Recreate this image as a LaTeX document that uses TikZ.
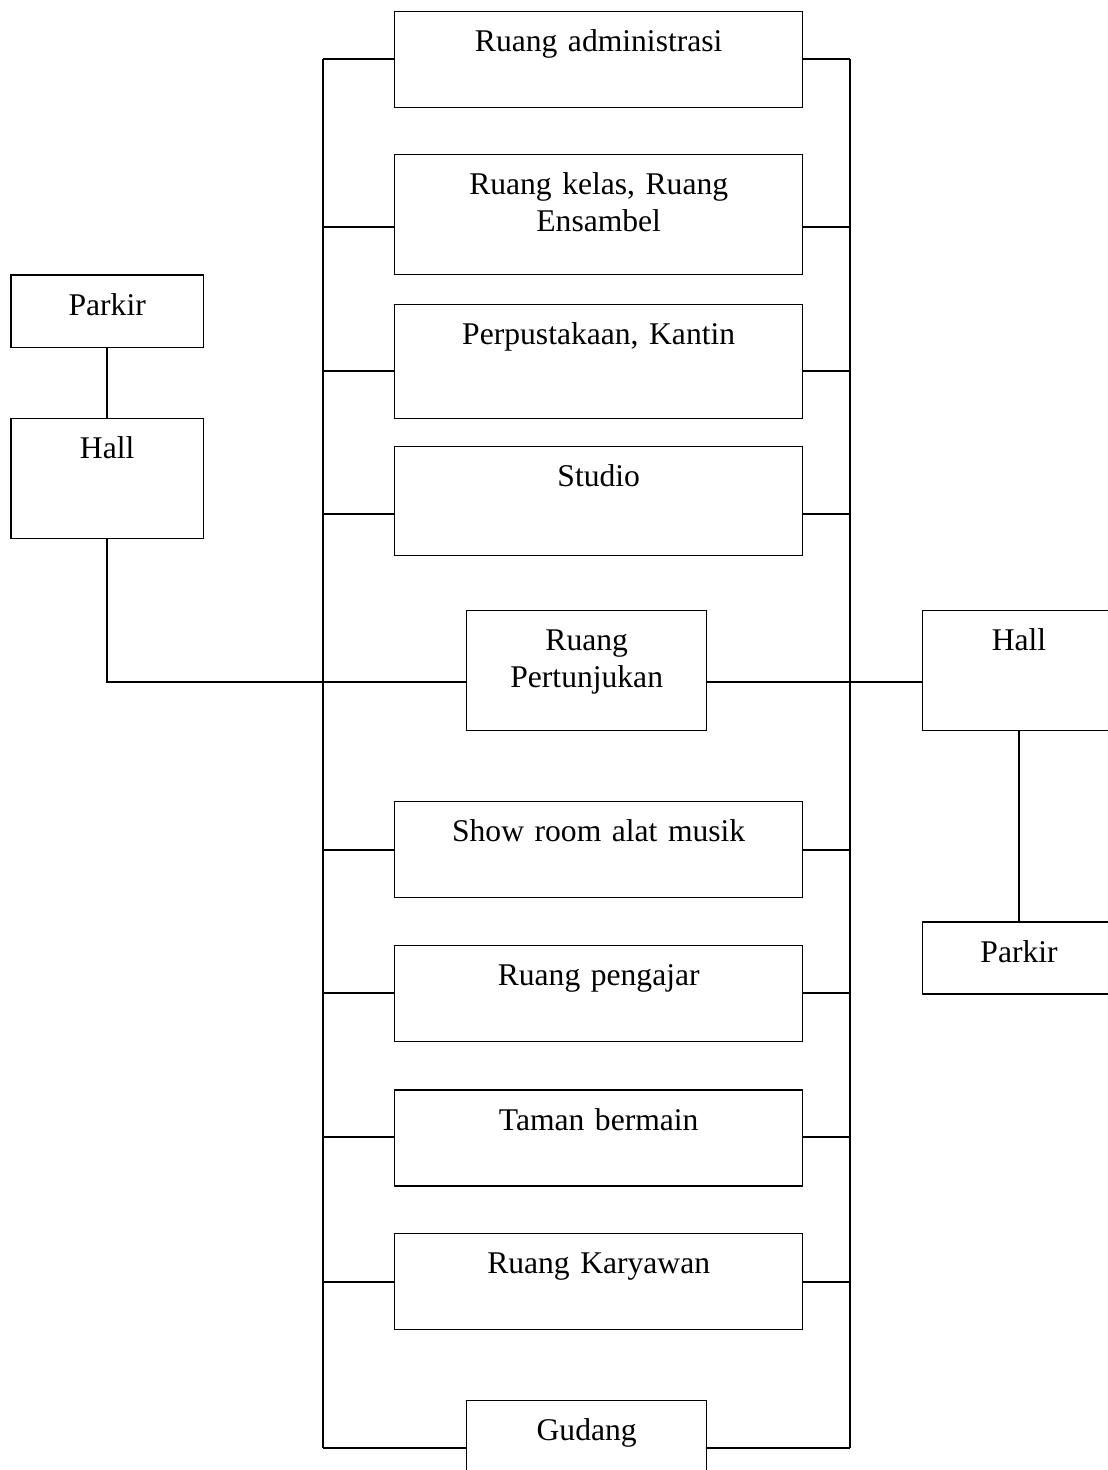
\documentclass[tikz,border=0pt]{standalone}
\usepackage{fontspec}
\setmainfont{Liberation Serif}
\begin{document}
\begin{tikzpicture}[x=1pt,y=-1pt,
  room/.style={draw, line width=1.4pt, inner sep=0pt, anchor=north west,
    align=center, font=\fontsize{31.6}{37}\selectfont, text height=40pt},
  link/.style={line width=2pt}]
\clip (0,0) rectangle (1108,1470);
\fill[white] (0,0) rectangle (1108,1470);

% central column of rooms
\node[room, text width=408pt, text depth=56pt]  (adm)   at (394,10.7)  {Ruang administrasi};
\node[room, text width=408pt, text depth=80pt]  (kelas) at (394,154)   {Ruang kelas, Ruang\\Ensambel};
\node[room, text width=408pt, text depth=74pt]  (perp)  at (394,304)   {Perpustakaan, Kantin};
\node[room, text width=408pt, text depth=69pt]  (stud)  at (394,446)   {Studio};
\node[room, text width=240pt, text depth=79.5pt](pert)  at (466,610)   {Ruang\\Pertunjukan};
\node[room, text width=408pt, text depth=56pt]  (show)  at (394,801)   {Show room alat musik};
\node[room, text width=408pt, text depth=56pt]  (peng)  at (394,945)   {Ruang pengajar};
\node[room, text width=408pt, text depth=56pt]  (taman) at (394,1089.3){Taman bermain};
\node[room, text width=408pt, text depth=56pt]  (kary)  at (394,1232.7){Ruang Karyawan};
\node[room, text width=240pt, text depth=80pt]  (gud)   at (466,1400)  {Gudang};

% entrances
\node[room, text width=192.4pt, text depth=32.4pt] (parkL) at (10.3,274.3) {Parkir};
\node[room, text width=192.4pt, text depth=80pt]   (hallL) at (10.3,418)   {Hall};
\node[room, text width=193.3pt, text depth=79.7pt] (hallR) at (921.7,610)  {Hall};
\node[room, text width=193.3pt, text depth=32pt]   (parkR) at (921.7,921.3){Parkir};

% circulation buses
\coordinate (LT) at (322.7,59);
\coordinate (LB) at (322.7,1448);
\coordinate (RT) at (850,59);
\coordinate (RB) at (850,1448);
\draw[link] (LT) -- (LB);
\draw[link] (RT) -- (RB);

% branches from the buses to the rooms
\foreach \r/\yy in {adm/59, kelas/227, perp/370.7, stud/514, show/849.7,
                    peng/993.3, taman/1137.3, kary/1281.7, gud/1448}{
  \draw[link] (322.7,\yy) -- (\r.west |- 0,\yy);
  \draw[link] (\r.east |- 0,\yy) -- (850,\yy);
}

% main axis through the performance hall
\coordinate (mainL) at (hallL.south |- 0,682);
\draw[link] (hallL.south) -- (mainL) -- (pert.west |- mainL);
\draw[link] (pert.east |- mainL) -- (hallR.west |- mainL);
\draw[link] (parkL.south) -- (hallL.north);
\draw[link] (hallR.south) -- (parkR.north);
\end{tikzpicture}
\end{document}
